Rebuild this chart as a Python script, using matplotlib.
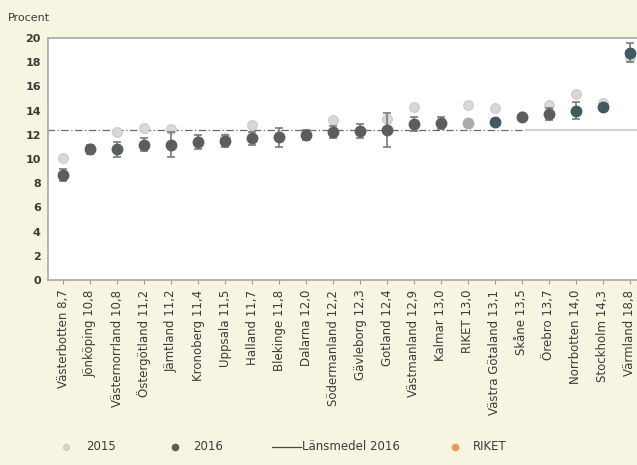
import matplotlib.pyplot as plt
from matplotlib.lines import Line2D

# län sorted by 2016 value
lan = ["Västerbotten", "Jönköping", "Västernorrland", "Östergötland", "Jämtland",
       "Kronoberg", "Uppsala", "Halland", "Blekinge", "Dalarna", "Södermanland",
       "Gävleborg", "Gotland", "Västmanland", "Kalmar", "RIKET", "Västra Götaland",
       "Skåne", "Örebro", "Norrbotten", "Stockholm", "Värmland"]
v2016 = [8.7, 10.8, 10.8, 11.2, 11.2, 11.4, 11.5, 11.7, 11.8, 12.0, 12.2,
         12.3, 12.4, 12.9, 13.0, 13.0, 13.1, 13.5, 13.7, 14.0, 14.3, 18.8]
err2016 = [0.5, 0.4, 0.6, 0.5, 1.0, 0.6, 0.5, 0.5, 0.8, 0.4, 0.5,
           0.6, 1.4, 0.6, 0.5, 0.0, 0.2, 0.2, 0.5, 0.7, 0.2, 0.8]
v2015 = [10.1, 10.9, 12.2, 12.6, 12.5, 11.5, 11.7, 12.8, 11.9, 12.1, 13.2,
         12.3, 13.3, 14.3, 13.0, 14.5, 14.2, 13.6, 14.5, 15.4, 14.6, 18.4]
lansmedel_2016 = 12.4

BG = "#f8f4e2"
DARK = "#5b5e60"
TEAL = "#3f5a60"
LIGHT = "#d8d8d8"
ORANGE = "#f0955a"
TXT = "#3a3a3a"

plt.rcParams["font.family"] = ["DejaVu Sans"]

fig = plt.figure(figsize=(6.37, 4.65), dpi=100, facecolor=BG)
ax = fig.add_axes([0.075, 0.398, 0.925, 0.520])

x = list(range(len(lan)))
colors = []
for name in lan:
    if name == "RIKET":
        colors.append("#ababab")
    elif name in ("Västra Götaland", "Norrbotten", "Stockholm", "Värmland"):
        colors.append(TEAL)
    else:
        colors.append(DARK)

# 2015 points (faint)
ax.plot(x, v2015, "o", ms=7, color=LIGHT, mec="#cbcbcb", mew=0.8, zorder=2)

# länsmedel line
ax.hlines(lansmedel_2016, -0.6, 17.1, colors="#6a6a6a", linestyles=(0, (6, 2, 1, 2)),
          lw=0.9, zorder=1)
ax.hlines(lansmedel_2016, 17.1, 22.3, colors="#c9c9c9", lw=1.2, zorder=1)

# 2016 points with confidence intervals
for xi, v, e, c in zip(x, v2016, err2016, colors):
    if e > 0:
        ax.errorbar(xi, v, yerr=e, fmt="none", ecolor="#7a7a7a", elinewidth=1.2,
                    capsize=3, capthick=1.2, zorder=3)
    ax.plot(xi, v, "o", ms=7.5, color=c, zorder=4)

ax.set_xlim(-0.58, 21.27)
ax.set_ylim(0, 20)
ax.set_yticks(range(0, 21, 2))
ax.set_yticklabels([str(t) for t in range(0, 21, 2)], fontweight="bold")
ax.set_xticks(x)
ax.set_xticklabels([f"{n} {str(v).replace('.', ',')}" for n, v in zip(lan, v2016)],
                   rotation=90, fontsize=8.5, color=TXT)
ax.tick_params(axis="y", labelsize=8, colors=TXT, length=0, pad=5)
ax.tick_params(axis="x", length=3, color="#9a9a9a", pad=4)

for side in ("top", "left", "bottom"):
    ax.spines[side].set_color("#a8a8a8")
    ax.spines[side].set_linewidth(1.2)
ax.spines["right"].set_visible(False)

fig.text(0.013, 0.962, "Procent", fontsize=8, color=TXT, va="center")

# legend row
ly = 0.039
fig.add_artist(Line2D([66 / 637], [ly], marker="o", ms=4, color=LIGHT, mec="#c8c8c8", ls=""))
fig.text(86 / 637, ly, "2015", fontsize=8.5, color=TXT, va="center")
fig.add_artist(Line2D([175 / 637], [ly], marker="o", ms=4.5, color=DARK, ls=""))
fig.text(193 / 637, ly, "2016", fontsize=8.5, color=TXT, va="center")
fig.add_artist(Line2D([272 / 637, 301 / 637], [ly, ly], color="#4a4a4a", lw=0.9))
fig.text(302 / 637, ly, "Länsmedel 2016", fontsize=8.5, color=TXT, va="center")
fig.add_artist(Line2D([455 / 637], [ly], marker="o", ms=4.5, color=ORANGE, ls=""))
fig.text(473 / 637, ly, "RIKET", fontsize=8.5, color=TXT, va="center")

fig.savefig("out.png", dpi=100, facecolor=BG)
